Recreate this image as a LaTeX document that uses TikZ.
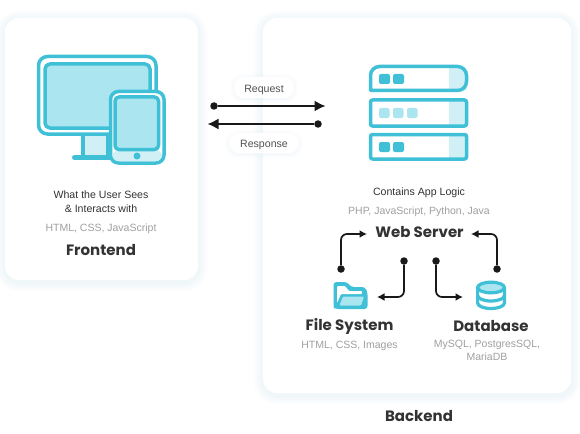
\documentclass[tikz,border=0pt]{standalone}
\usepackage{fontspec}
\setmainfont{Liberation Sans}
\newfontfamily\titlefont{Poppins}
\usetikzlibrary{arrows.meta,calc}
\definecolor{cy}{HTML}{3FC0D6}
\definecolor{cyl}{HTML}{ABE6F0}
\definecolor{cyp}{HTML}{D0F0F6}
\definecolor{txd}{HTML}{333333}
\definecolor{txg}{HTML}{A0A0A0}
\definecolor{shad}{HTML}{CFE8EE}
\tikzset{
 x=1pt,y=-1pt,
 card/.style={fill=white,rounded corners=14pt},
 pill/.style={fill=white,rounded corners=10pt},
 ttl/.style={font=\titlefont\bfseries\fontsize{15}{17}\selectfont,text=txd,inner sep=0pt},
 body/.style={font=\fontsize{10.6}{14}\selectfont,text=txd,align=center,inner sep=0pt},
 sub/.style={font=\fontsize{10.5}{13}\selectfont,text=txg,align=center,inner sep=0pt},
 lbl/.style={font=\fontsize{10.6}{12}\selectfont,text=txd!85,inner sep=0pt},
 icon/.style={draw=cy,line width=3.5pt,line join=round},
 conn/.style={draw=black!90,line width=1.7pt,rounded corners=6pt,-{Latex[length=7.5pt,width=8pt]}},
 straightc/.style={draw=black!90,line width=1.6pt,-{Latex[length=11pt,width=11pt]}},
 dotn/.style={circle,fill=black!90,inner sep=0pt,minimum size=7.5pt},
}
\newcommand{\softcard}[4]{%
 \foreach \w in {18,15,12,9,6,3}{%
  \draw[shad,line width=\w pt,opacity=0.05,rounded corners=14pt] (#1,#2+2) rectangle (#3,#4+2);}%
 \fill[card] (#1,#2) rectangle (#3,#4);}
\begin{document}
\begin{tikzpicture}
\useasboundingbox (0,0) rectangle (580,433);
\fill[white] (0,0) rectangle (580,433);
\softcard{5}{18}{198}{280}
\softcard{263}{18}{571}{393}

% monitor
\draw[icon,rounded corners=9pt,fill=white] (38.5,56.5) rectangle (156,134);
\draw[icon,rounded corners=5pt,fill=cyl] (45,64) rectangle (150,128);
\fill[cyp] (83,136) rectangle (108,156);
\draw[cy,line width=3.5pt] (83,135) -- (83,156);
\draw[cy,line width=3.5pt] (108,135) -- (108,156);
\draw[cy,line width=5pt,line cap=round] (74.5,157.5) -- (114,157.5);
% tablet
\draw[icon,rounded corners=8pt,fill=white] (110.5,91.5) rectangle (164,163);
\fill[cyp,rounded corners=6pt] (112.5,150) rectangle (162,161);
\draw[icon,rounded corners=4pt,fill=cyl] (115,97) rectangle (158.5,149.5);
\fill[cy] (137,156) circle (3.5);

% server
\fill[cyp] (449,66.5) -- (458,66.5) -- (466.5,74) -- (466.5,90.5) -- (449,90.5) -- cycle;
\draw[icon] (370.5,90.5) -- (370.5,76) [rounded corners=9pt] -- (370.5,66.5) -- (466.5,66.5) -- (466.5,90.5) [sharp corners] -- cycle;
\fill[cyp] (449,100) rectangle (466.5,126);
\draw[icon,rounded corners=2pt] (370.5,100) rectangle (466.5,126);
\fill[cyp] (449,134.5) rectangle (466.5,159);
\draw[icon,rounded corners=2pt] (370.5,134.5) rectangle (466.5,159);
\fill[cy,rounded corners=2pt] (379,74) rectangle (390,84);
\fill[cy,rounded corners=2pt] (393,74) rectangle (404,84);
\foreach \x in {379,393,407}{\fill[cyl,rounded corners=2pt] (\x,108) rectangle (\x+10.5,118);}
\fill[cy,rounded corners=2pt] (379,142) rectangle (390,152);
\fill[cy,rounded corners=2pt] (393,142) rectangle (404,152);

% folder
\fill[cy,rounded corners=3pt] (333.5,282) -- (347,282) -- (351,287) -- (365,287) -- (367.5,292) -- (367.5,309) -- (335,309) -- (333.5,307) -- cycle;
\fill[white,rounded corners=1pt] (337,286) -- (345,286) -- (349,291) -- (362,291) -- (362,294) -- (341,294) -- (337,303) -- cycle;
\fill[cyl,rounded corners=1pt] (343,296.5) -- (364,296.5) -- (361,305.5) -- (339.5,305.5) -- cycle;

% database
\fill[white] (478,288) rectangle (505,305);
\draw[cy,line width=3.2pt,fill=white] (477.6,288) -- (477.6,303) arc[start angle=180,end angle=360,x radius=13.4,y radius=-5.5] -- (504.4,288);
\draw[cy,line width=3.2pt,fill=cyl] (491,287.5) ellipse[x radius=13.4,y radius=5.3];
\draw[cy,line width=3.2pt] (477.6,295.5) arc[start angle=180,end angle=360,x radius=13.4,y radius=-5.5];

% pills
\foreach \a/\b/\c/\d in {234/77/294/98,229/133/299/153}{
 \foreach \w in {8,5,2}{\draw[shad,line width=\w pt,opacity=.06,rounded corners=10pt] (\a,\b+1) rectangle (\c,\d+1);}
 \fill[pill] (\a,\b) rectangle (\c,\d);}
\node[lbl] (req) at (264,89.5) {Request};
\node[lbl] (resp) at (264,145) {Response};

% req/resp arrows
\node[dotn] (d1) at (214,106) {};
\coordinate (e1) at (325.5,106);
\draw[straightc] (d1) -- (e1);
\node[dotn] (d2) at (318,124) {};
\coordinate (e2) at (207.5,124);
\draw[straightc] (d2) -- (e2);

% texts
\node[body] (ft) at (101,202) {What the User Sees\\\& Interacts with};
\node[sub] (fs) at (101,228.5) {HTML, CSS, JavaScript};
\node[ttl] (fe) at (101,250) {Frontend};
\node[body] (bt) at (419,192.5) {Contains App Logic};
\node[sub] (bs) at (419,211.5) {PHP, JavaScript, Python, Java};
\node[ttl] (ws) at (419.5,232) {Web Server};
\node[ttl] (fsys) at (349.5,326) {File System};
\node[sub] (fss) at (349.5,345.5) {HTML, CSS, Images};
\node[ttl] (db) at (491,326) {Database};
\node[sub] (dbs) at (487,350.5) {MySQL, PostgresSQL,\\MariaDB};
\node[ttl] (be) at (419,416) {Backend};

% connectors
\node[dotn] (a) at (341,269) {};
\coordinate (at) at (367,234);
\draw[conn] (a) |- (at);
\node[dotn] (b) at (497,269) {};
\coordinate (bt2) at (471,234);
\draw[conn] (b) |- (bt2);
\node[dotn] (c) at (404,261) {};
\coordinate (ct) at (377,297);
\draw[conn] (c) |- (ct);
\node[dotn] (d) at (436,261) {};
\coordinate (dt) at (463,297);
\draw[conn] (d) |- (dt);
\end{tikzpicture}
\end{document}
